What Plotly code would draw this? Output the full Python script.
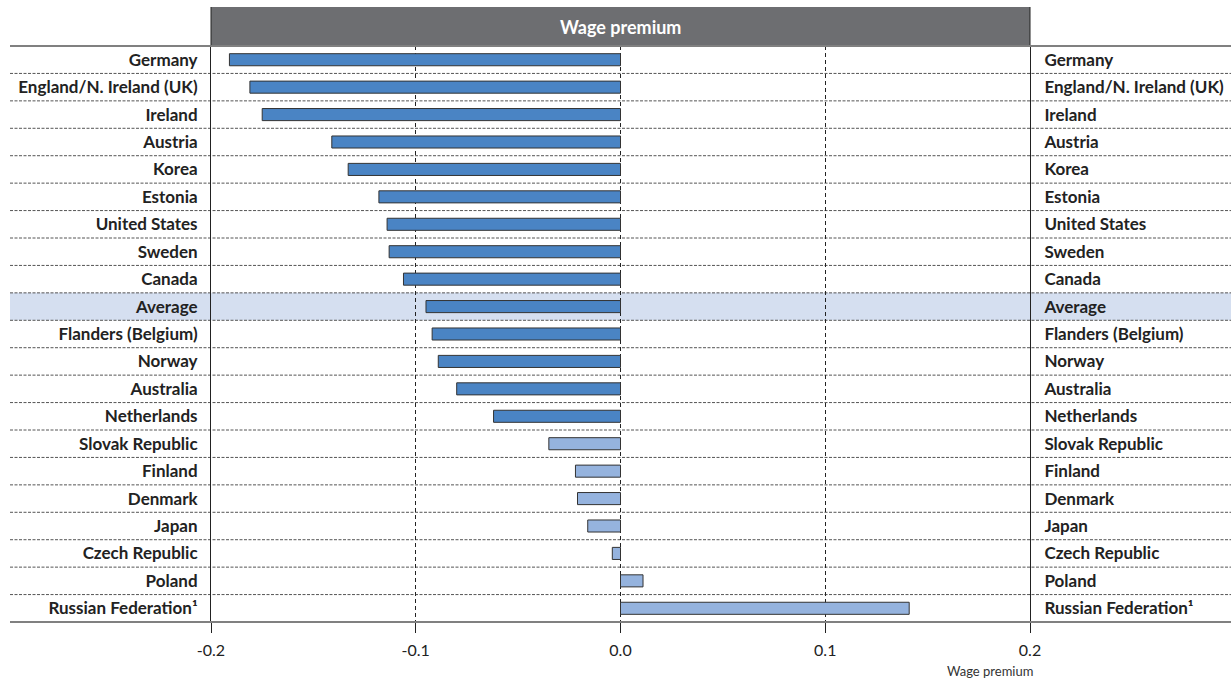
import plotly.graph_objects as go

countries = ["Germany", "England/N. Ireland (UK)", "Ireland", "Austria", "Korea", "Estonia",
             "United States", "Sweden", "Canada", "Average", "Flanders (Belgium)", "Norway",
             "Australia", "Netherlands", "Slovak Republic", "Finland", "Denmark", "Japan",
             "Czech Republic", "Poland", "Russian Federation\u00b9"]
wage_premium = [-0.191, -0.181, -0.175, -0.141, -0.133, -0.118, -0.114, -0.113, -0.106,
                -0.095, -0.092, -0.089, -0.080, -0.062, -0.035, -0.022, -0.021, -0.016,
                -0.004, 0.011, 0.141]
significant = [True] * 14 + [False] * 7
x_ticks = [-0.2, -0.1, 0.0, 0.1, 0.2]
x_tick_labels = ["-0.2", "-0.1", "0.0", "0.1", "0.2"]
header_title = "Wage premium"
axis_title = "Wage premium"
highlight = "Average"

DARK = "#4a84c4"
LIGHT = "#95b3de"
colors = [DARK if s else LIGHT for s in significant]
ticktext = [f"<b>{c}</b>" if c == highlight else c for c in countries]

W, H = 1231, 682
ml, mr, mt, mb = 211, 201, 46, 60
pw = W - ml - mr
ph = H - mt - mb
xl = (10 - ml) / pw
xr = (W - ml) / pw
hdr_top = 1 + (46 - 7) / ph

fig = go.Figure()
fig.add_trace(go.Bar(
    x=wage_premium, y=countries, orientation="h",
    marker=dict(color=colors, line=dict(color="#333333", width=1)),
    width=0.44, hoverinfo="x+y", showlegend=False, yaxis="y"))
fig.add_trace(go.Bar(
    x=wage_premium, y=countries, orientation="h",
    marker=dict(color="rgba(0,0,0,0)", line=dict(width=0)),
    width=0.44, hoverinfo="skip", showlegend=False, yaxis="y2"))

shapes = []
n = len(countries)
hi = countries.index(highlight)
shapes.append(dict(type="rect", xref="paper", yref="y", x0=xl, x1=xr,
                   y0=hi - 0.5, y1=hi + 0.5, fillcolor="#d5dff0",
                   line=dict(width=0), layer="below"))
for i in range(n - 1):
    shapes.append(dict(type="line", xref="paper", yref="y", x0=xl, x1=xr,
                       y0=i + 0.5, y1=i + 0.5,
                       line=dict(color="#555555", width=1, dash="3px,1.5px"), layer="below"))
# header box
shapes.append(dict(type="rect", xref="paper", yref="paper", x0=0, x1=1, y0=1, y1=hdr_top,
                   fillcolor="#6d6e71", line=dict(width=0)))
for xv in (0, 1):
    shapes.append(dict(type="line", xref="paper", yref="paper", x0=xv, x1=xv, y0=1, y1=hdr_top,
                       line=dict(color="#222222", width=1)))
# top and bottom rules
for yv in (0, 1):
    shapes.append(dict(type="line", xref="paper", yref="paper", x0=xl, x1=xr, y0=yv, y1=yv,
                       line=dict(color="#808080", width=2)))

label_font = dict(size=17, color="#222222", weight="bold", family="Lato")

fig.update_layout(
    width=W, height=H,
    margin=dict(l=ml, r=mr, t=mt, b=mb, autoexpand=False),
    paper_bgcolor="white", plot_bgcolor="rgba(0,0,0,0)",
    barmode="overlay",
    font=dict(family="Lato", color="#222222"),
    xaxis=dict(range=[-0.2, 0.2], tickvals=x_ticks, ticktext=x_tick_labels,
               showgrid=True, gridcolor="#222222", griddash="4px,3px", gridwidth=1,
               zeroline=False, showline=False, ticks="outside", ticklen=10,
               tickcolor="#222222", tickfont=dict(size=16, color="#222222"),
               ticklabelstandoff=4, fixedrange=True, automargin=False),
    yaxis=dict(categoryorder="array", categoryarray=countries, autorange="reversed",
               tickmode="array", tickvals=countries, ticktext=ticktext,
               showgrid=False, zeroline=False, showline=True, linecolor="#222222",
               linewidth=1, ticks="", ticklabelstandoff=9, tickfont=label_font,
               automargin=False),
    yaxis2=dict(overlaying="y", side="right", categoryorder="array", categoryarray=countries,
                autorange="reversed", tickmode="array", tickvals=countries, ticktext=ticktext,
                showgrid=False, zeroline=False, showline=True, linecolor="#222222",
                linewidth=1, ticks="", ticklabelstandoff=10, tickfont=label_font,
                automargin=False),
    shapes=shapes,
    annotations=[
        dict(text=f"<b>{header_title}</b>", xref="paper", yref="paper", x=0.5,
             y=(1 + hdr_top) / 2, showarrow=False, font=dict(size=18, color="white"),
             xanchor="center", yanchor="middle"),
        dict(text=axis_title, xref="paper", yref="paper", x=(990 - ml) / pw,
             y=-(671 - (H - mb)) / ph, showarrow=False, font=dict(size=13, color="#333333"),
             xanchor="center", yanchor="middle"),
    ],
)

fig.write_html("out.html", config={"displayModeBar": False},
               post_script="document.body.style.margin='0';document.body.style.overflow='hidden';")
